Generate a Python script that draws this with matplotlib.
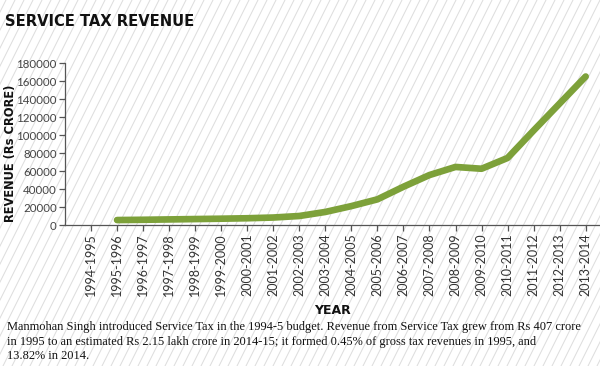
import matplotlib
matplotlib.use("Agg")
import matplotlib.pyplot as plt
from matplotlib.lines import Line2D

# data (Rs crore)
years = ["1994-1995", "1995-1996", "1996-1997", "1997-1998", "1998-1999",
         "1999-2000", "2000-2001", "2001-2002", "2002-2003", "2003-2004",
         "2004-2005", "2005-2006", "2006-2007", "2007-2008", "2008-2009",
         "2009-2010", "2010-2011", "2011-2012", "2012-2013", "2013-2014"]
line_years = years[1:]
revenue = [5500, 5800, 6200, 6600, 7000, 7500, 8300, 10000, 14500,
           21000, 28500, 42500, 55500, 64500, 62500, 74500, 105000,
           135000, 165000]

yticks = list(range(0, 180001, 20000))

caption = ("Manmohan Singh introduced Service Tax in the 1994-5 budget. Revenue from Service Tax grew from Rs 407 crore\n"
           "in 1995 to an estimated Rs 2.15 lakh crore in 2014-15; it formed 0.45% of gross tax revenues in 1995, and\n"
           "13.82% in 2014.")

W, H = 600, 366
fig = plt.figure(figsize=(W / 100, H / 100), dpi=100)
fig.patch.set_facecolor("white")

# diagonal stripe background
step = 9
for x0 in range(-H, W + step, step):
    fig.add_artist(Line2D([x0 / W, (x0 + H * 0.5) / W], [0, 1],
                          transform=fig.transFigure, color="#dcdcdc",
                          lw=0.7, zorder=0))

ax = fig.add_axes([65 / W, 1 - 225 / H, 1 - 65 / W, (225 - 63) / H])
ax.patch.set_alpha(0)

xpos = {y: i for i, y in enumerate(years)}
ax.plot([xpos[y] for y in line_years], revenue, color="#7da13a", lw=4.8,
        solid_capstyle="round", solid_joinstyle="round", zorder=3)

ax.set_xlim(-1, 19.55)
ax.set_ylim(0, 180000)
ax.set_xticks(range(len(years)))
ax.set_xticklabels(years, rotation=90, fontsize=9, color="#333333",
                   fontfamily="Lato")
ax.set_yticks(yticks)
ax.set_yticklabels([str(v) for v in yticks], fontsize=8.3, color="#444444",
                   fontfamily="Lato")
ax.tick_params(axis="both", length=4, width=0.9, color="#555555", pad=2)

for s in ["top", "right"]:
    ax.spines[s].set_visible(False)
for s in ["left", "bottom"]:
    ax.spines[s].set_color("#555555")
    ax.spines[s].set_linewidth(0.9)

ax.set_xlabel("YEAR", fontsize=9, fontweight="bold", color="#111111")
ax.xaxis.set_label_coords(0.5, -(310 - 225) / (225 - 63), transform=ax.transAxes)
ax.xaxis.label.set_va("center")
ax.set_ylabel("REVENUE (Rs CRORE)", fontsize=8.3, fontweight="bold",
              color="#111111")
ax.yaxis.set_label_coords(-(65 - 11) / (W - 65), (225 - 153) / (225 - 63),
                          transform=ax.transAxes)
ax.yaxis.label.set_va("center")

fig.text(5 / W, 1 - 22 / H, "SERVICE TAX REVENUE", fontsize=11.8,
         fontweight="heavy", fontfamily="DejaVu Sans", fontstretch="condensed",
         va="center", ha="left", color="#111111")

fig.text(7 / W, 1 - 321 / H, caption, fontsize=8.9,
         fontfamily="Liberation Serif", va="top", ha="left",
         color="#111111", linespacing=1.3)

fig.savefig("out.png", dpi=100)
